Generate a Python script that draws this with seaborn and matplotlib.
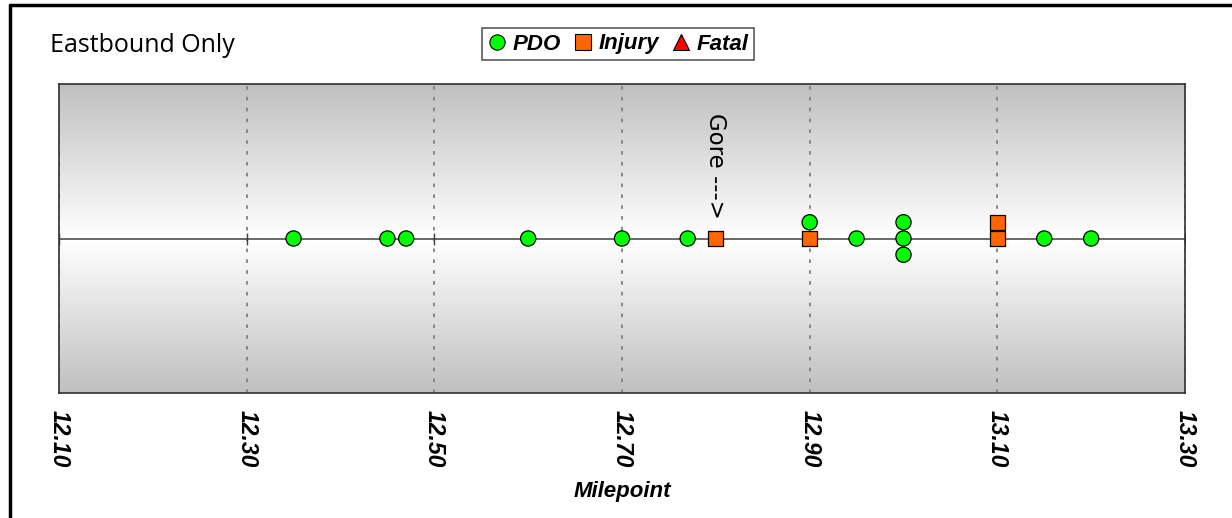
import numpy as np
import pandas as pd
import seaborn as sns
import matplotlib.pyplot as plt
from matplotlib.lines import Line2D
from matplotlib.colors import LinearSegmentedColormap

# crash data
milepoint = [12.35, 12.45, 12.47, 12.60, 12.70, 12.77, 12.80, 12.90, 12.90,
             12.95, 13.00, 13.00, 13.00, 13.10, 13.10, 13.15, 13.20]
severity = ['PDO', 'PDO', 'PDO', 'PDO', 'PDO', 'PDO', 'Injury', 'Injury', 'PDO',
            'PDO', 'PDO', 'PDO', 'PDO', 'Injury', 'Injury', 'PDO', 'PDO']
tick_values = [12.10, 12.30, 12.50, 12.70, 12.90, 13.10, 13.30]
tick_labels = ['12.10', '12.30', '12.50', '12.70', '12.90', '13.10', '13.30']

colors = {'PDO': '#00ff00', 'Injury': '#ff6600', 'Fatal': '#ff0000'}
markers = {'PDO': 'o', 'Injury': 's', 'Fatal': '^'}

df = pd.DataFrame({'milepoint': milepoint, 'severity': severity})
# stack crashes at the same milepoint: centre, above, below
n = df.groupby('milepoint').cumcount()
df['y'] = n.map({0: 0, 1: 1, 2: -1, 3: 2, 4: -2}) * 0.105

sns.set_style('white')
plt.rcParams['font.family'] = ['Liberation Sans', 'DejaVu Sans']
plt.rcParams['text.color'] = 'black'
plt.rcParams['axes.labelcolor'] = 'black'
plt.rcParams['xtick.color'] = 'black'

fig = plt.figure(figsize=(12.32, 5.18), dpi=100)
ax = fig.add_axes([59 / 1232, 1 - 393 / 518, 1126 / 1232, 309 / 518])

# grey-white-grey background
grad = np.abs(np.linspace(-1, 1, 256))[:, None]
cmap = LinearSegmentedColormap.from_list('bg', ['white', '#c0c0c0'])
ax.imshow(grad, extent=[0, 1, 0, 1], transform=ax.transAxes, aspect='auto',
          cmap=cmap, zorder=0)

for t in tick_values:
    ax.axvline(t, color='#808080', ls=(0, (2, 4)), lw=1.3, zorder=1)
ax.axhline(0, color='#404040', lw=1.1, zorder=2)
ax.plot(tick_values, [0] * len(tick_values), ls='none', marker='|',
        ms=8, color='#404040', zorder=2)

sns.scatterplot(data=df, x='milepoint', y='y', hue='severity', style='severity',
                palette=colors, markers=markers, s=120, edgecolor='black',
                linewidth=0.9, legend=False, ax=ax, zorder=3)

ax.text(12.80, 0.13, 'Gore --->', rotation=-90, ha='center', va='bottom',
        fontsize=16.5, family='DejaVu Sans', zorder=4)

ax.set_xlim(12.10, 13.30)
ax.set_ylim(-1, 1)
ax.set_yticks([])
ax.set_xticks(tick_values)
ax.set_xticklabels(tick_labels, rotation=-90, fontsize=16.5, fontweight='bold',
                   fontstyle='italic')
ax.tick_params(axis='x', length=0, pad=12)
ax.set_xlabel('Milepoint', fontsize=16, fontweight='bold', fontstyle='italic',
              labelpad=10)
ax.set_ylabel('')
for sp in ax.spines.values():
    sp.set_color('#303030')
    sp.set_linewidth(1.2)

handles = [Line2D([], [], ls='none', marker=markers[k], color=colors[k],
                  markeredgecolor='black', markeredgewidth=0.8,
                  markersize=11 if k == 'PDO' else 12) for k in colors]
leg = fig.legend(handles, list(colors), loc='center', bbox_to_anchor=(618 / 1232, 1 - 44 / 518),
                 ncol=3, frameon=True, fancybox=False, handlelength=0.8,
                 handletextpad=0.3, columnspacing=0.6, borderpad=0.25,
                 prop={'weight': 'bold', 'style': 'italic', 'size': 16})
leg.get_frame().set_edgecolor('#303030')
leg.get_frame().set_linewidth(1.2)

fig.text(50 / 1232, 1 - 46 / 518, 'Eastbound Only', fontsize=18, family='Open Sans',
         va='center', ha='left')

# outer frame
fig.add_artist(Line2D([9.5 / 1232, 9.5 / 1232], [0, 1 - 5 / 518], color='black',
                      lw=2.5, transform=fig.transFigure))
fig.add_artist(Line2D([9.5 / 1232, 1], [1 - 5 / 518, 1 - 5 / 518], color='black',
                      lw=2.5, transform=fig.transFigure))

fig.savefig('out.png', dpi=100, facecolor='white')
